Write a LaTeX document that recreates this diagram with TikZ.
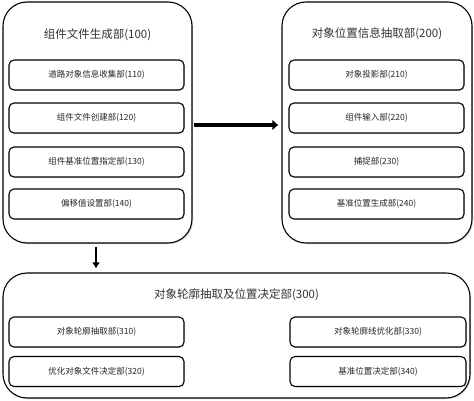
\documentclass[tikz,border=0pt]{standalone}
\usepackage{fontspec}
\usepackage{tikz}
\usetikzlibrary{calc,arrows.meta,shadows}
\newfontfamily\cjk{Noto Sans CJK SC}

\begin{document}
\begin{tikzpicture}[x=1pt,y=-1pt,
    outerbox/.style={draw,line width=1.1pt,rounded corners=24pt,fill=white,
        drop shadow={opacity=0.25,shadow xshift=1.2pt,shadow yshift=-1.2pt}},
    innerbox/.style={draw,line width=1.1pt,rounded corners=5pt,fill=white,
        minimum width=175pt,minimum height=30pt,inner sep=0pt,
        font=\cjk\fontsize{8.5}{10}\selectfont,text=black!85,
        drop shadow={opacity=0.25,shadow xshift=0.8pt,shadow yshift=-0.8pt}},
    titletext/.style={font=\cjk\fontsize{11.5}{13}\selectfont,text=black!80},
    bigarrow/.style={line width=4.5pt,-{Latex[length=6pt,width=11pt]}}]
    \useasboundingbox (0,0) rectangle (474,401);

    % Outer blocks
    \node[outerbox,minimum width=189pt,minimum height=241pt] (g100) at (97.5,122.5) {};
    \node[outerbox,minimum width=190pt,minimum height=241pt] (e200) at (377,122.5) {};
    \node[outerbox,minimum width=467pt,minimum height=125pt] (d300) at (236.5,335.5) {};

    % Titles
    \node[titletext] (t100) at (97.5,35) {组件文件生成部(100)};
    \node[titletext] (t200) at (377,34) {对象位置信息抽取部(200)};
    \node[titletext] (t300) at (236.5,295) {对象轮廓抽取及位置决定部(300)};

    % Units of 100
    \node[innerbox] (u110) at (96.5,75) {道路对象信息收集部(110)};
    \node[innerbox] (u120) at (96.5,118) {组件文件创建部(120)};
    \node[innerbox] (u130) at (96.5,162) {组件基准位置指定部(130)};
    \node[innerbox] (u140) at (96.5,204) {偏移值设置部(140)};

    % Units of 200
    \node[innerbox] (u210) at (376.5,75) {对象投影部(210)};
    \node[innerbox] (u220) at (376.5,118) {组件输入部(220)};
    \node[innerbox] (u230) at (376.5,162) {捕捉部(230)};
    \node[innerbox] (u240) at (376.5,204) {基准位置生成部(240)};

    % Units of 300
    \node[innerbox] (u310) at (96.5,332) {对象轮廓抽取部(310)};
    \node[innerbox] (u320) at (96.5,371.5) {优化对象文件决定部(320)};
    \node[innerbox,minimum width=176pt] (u330) at (378,332) {对象轮廓线优化部(330)};
    \node[innerbox,minimum width=176pt] (u340) at (378,371.5) {基准位置决定部(340)};

    % Arrows
    \draw[bigarrow,shorten <=1pt,shorten >=3pt] ($(g100.east)+(0,2.5)$) -- ($(e200.west)+(0,2.5)$);
    \draw[bigarrow,line width=2.5pt,-{Latex[length=6pt,width=8pt]},shorten <=3pt,shorten >=4pt]
        ($(g100.south)+(-1.5,0)$) -- ($(g100.south |- d300.north)+(-1.5,0)$);
\end{tikzpicture}
\end{document}
